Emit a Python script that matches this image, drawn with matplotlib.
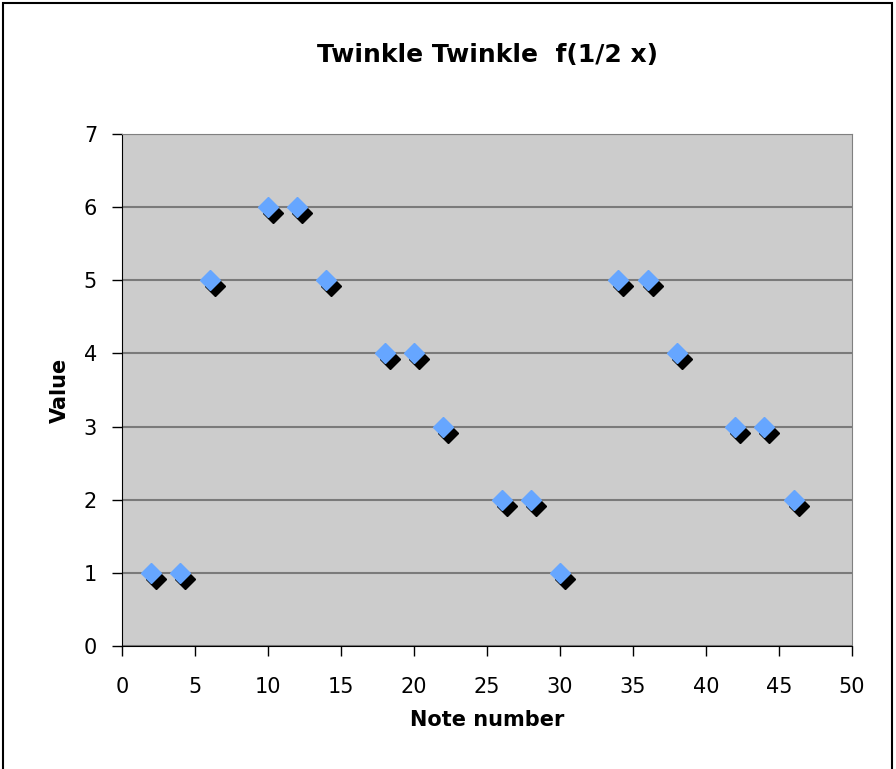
import matplotlib.pyplot as plt
import matplotlib.transforms as mtransforms
from matplotlib.patches import Rectangle

plt.rcParams['font.family'] = ['DejaVu Sans']

note_number = [2, 4, 6, 10, 12, 14, 18, 20, 22, 26, 28, 30, 34, 36, 38, 42, 44, 46]
value = [1, 1, 5, 6, 6, 5, 4, 4, 3, 2, 2, 1, 5, 5, 4, 3, 3, 2]
x_ticks = [0, 5, 10, 15, 20, 25, 30, 35, 40, 45, 50]
y_ticks = [0, 1, 2, 3, 4, 5, 6, 7]

fig = plt.figure(figsize=(8.96, 7.69), dpi=100)
ax = fig.add_axes([122 / 896, 1 - 646 / 769, 730 / 896, 512 / 769])

# outer chart border
fig.patches.append(Rectangle((3 / 896, -0.01), 889 / 896, 1 - 3 / 769 + 0.01,
                             transform=fig.transFigure, fill=False,
                             edgecolor='black', linewidth=1.5))

ax.set_facecolor('#CCCCCC')
ax.set_xlim(0, 50)
ax.set_ylim(0, 7)
ax.set_xticks(x_ticks)
ax.set_yticks(y_ticks)
ax.grid(axis='y', color='#7A7A7A', linewidth=1.5)
ax.set_axisbelow(True)

for side in ['top', 'right']:
    ax.spines[side].set_color('#808080')
for side in ['left', 'bottom']:
    ax.spines[side].set_color('black')

ax.tick_params(axis='both', direction='out', length=7, width=1,
               labelsize=15, color='black')
ax.tick_params(axis='x', pad=15)
ax.tick_params(axis='y', pad=11)

# shadow under each marker
shadow = mtransforms.offset_copy(ax.transData, fig=fig, x=5, y=-6, units='dots')
ax.plot(note_number, value, linestyle='none', marker='D', markersize=10,
        color='black', transform=shadow, clip_on=False)
ax.plot(note_number, value, linestyle='none', marker='D', markersize=10,
        color='#66A6FF', clip_on=False)

ax.set_title('Twinkle Twinkle  f(1/2 x)', fontsize=18, fontweight='bold', pad=52)
ax.set_xlabel('Note number', fontsize=15, fontweight='bold', labelpad=10)
ax.set_ylabel('Value', fontsize=15, fontweight='bold', labelpad=10)

fig.savefig('out.png', dpi=100)
